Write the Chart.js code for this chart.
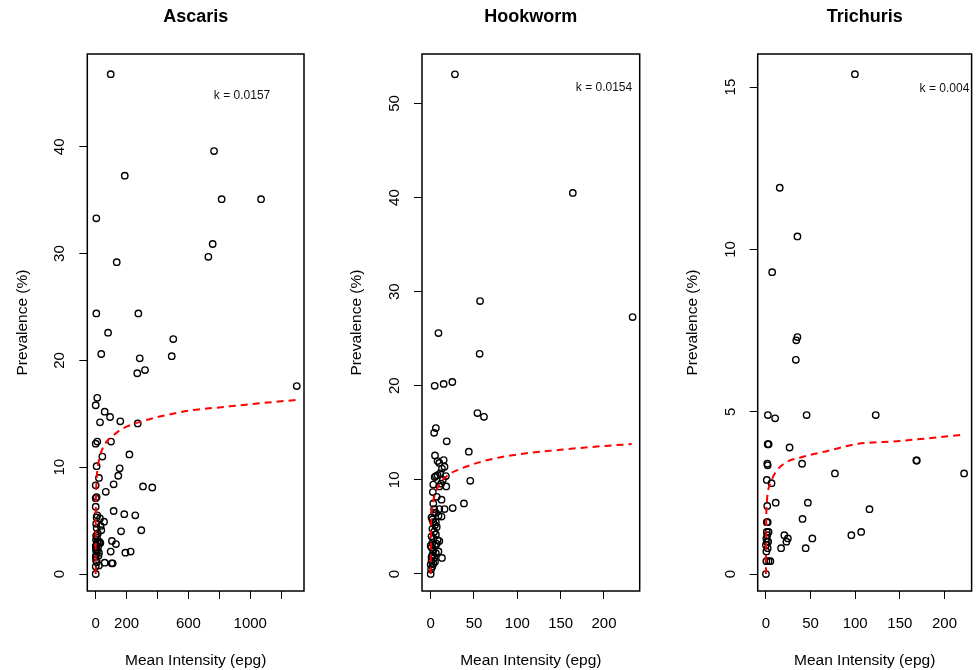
<!DOCTYPE html>
<html>
<head>
<meta charset="utf-8">
<title>Prevalence vs Mean Intensity</title>
<script src="https://cdn.jsdelivr.net/npm/chart.js@4.4.1/dist/chart.umd.min.js"></script>
<style>
  html, body { margin: 0; padding: 0; background: #fff; }
  #wrap { position: relative; width: 977px; height: 670px; overflow: hidden; }
  canvas { position: absolute; top: 0; }
</style>
</head>
<body>
<div id="wrap">
  <canvas id="ascaris" width="330" height="670" style="left:0"></canvas>
  <canvas id="hookworm" width="330" height="670" style="left:330px"></canvas>
  <canvas id="trichuris" width="317" height="670" style="left:660px"></canvas>
</div>
<script>
// ---- Ascaris ----
const ascarisIntensity = [
  97, 766, 188, 815, 1070, 4, 757, 729, 136, 4,
  276, 80, 502, 36, 492, 285, 319, 269, 1301, 10,
  0, 58, 93, 28, 159, 272, 10, 0, 99, 43,
  218, 6, 155, 21, 146, 306, 366, 0, 116, 65,
  6, 0, 0, 116, 185, 256, 6, 28, 54, 32,
  6, 164, 295, 36, 105, 131, 21, 97, 192, 226,
  21, 58, 110, 103, 21, 0, 0, 0, 3, 8,
  2, 12, 5, 15, 1, 9, 4, 18, 2, 7,
  25, 30, 14, 0, 10, 3
];
const ascarisPrevalence = [
  46.8, 39.6, 37.3, 35.1, 35.1, 33.3, 30.9, 29.7, 29.2, 24.4,
  24.4, 22.6, 22.0, 20.6, 20.4, 20.2, 19.1, 18.8, 17.6, 16.5,
  15.8, 15.2, 14.7, 14.2, 14.3, 14.1, 12.4, 12.2, 12.4, 11.0,
  11.2, 10.1, 9.9, 9.0, 9.2, 8.2, 8.1, 8.3, 8.4, 7.7,
  7.2, 7.1, 6.3, 5.9, 5.6, 5.5, 5.3, 5.2, 4.9, 4.5,
  4.3, 4.0, 4.1, 4.1, 3.1, 2.8, 2.9, 2.1, 2.0, 2.1,
  2.0, 1.06, 1.0, 1.0, 0.8, 1.6, 0.7, 0, 3.6, 3.4,
  3.2, 3.0, 2.7, 2.5, 2.3, 2.2, 1.9, 1.7, 1.3, 1.1,
  3.0, 2.9, 3.8, 2.6, 5.5, 4.7
];
// fitted curve (red dashed)
const ascarisCurveX = [0, 0.1, 0.5, 1, 2, 5, 10, 20, 40, 70, 100, 150, 200, 300, 400, 500, 600, 800, 1000, 1300];
const ascarisCurveY = [0, 3.1, 5.3, 6.3, 7.3, 8.7, 9.6, 10.6, 11.6, 12.4, 12.8, 13.4, 13.8, 14.3, 14.7, 15.0, 15.3, 15.6, 15.9, 16.3];
const ascarisXTicks = [0, 200, 400, 600, 800, 1000, 1200];
const ascarisXLabels = ['0', '200', '', '600', '', '1000', ''];
const ascarisYTicks = [0, 10, 20, 30, 40];

// ---- Hookworm ----
const hookwormIntensity = [
  28, 164, 57, 233, 9, 56.5, 25, 15, 4.6, 54,
  61.5, 6, 4, 18.5, 44, 5, 15, 16, 10, 11,
  4.6, 17.5, 45.7, 3, 18, 10, 2.5, 7, 12.5, 38.4,
  25.4, 16, 10, 4, 12.5, 13, 9, 0, 13, 8,
  14, 6, 12, 8, 3, 6, 9, 1, 3, 5,
  7, 2, 4, 6, 1, 3, 8, 2, 5, 1,
  3, 6, 2, 4, 1, 3, 2, 0.5, 1, 5,
  7, 10, 0, 0, 2, 6, 4
];
const hookwormPrevalence = [
  53.1, 40.5, 29.0, 27.3, 25.6, 23.4, 20.4, 20.2, 20.0, 17.1,
  16.7, 15.5, 15.0, 14.1, 13.0, 12.6, 12.1, 11.4, 11.8, 10.7,
  10.3, 10.4, 9.9, 9.5, 9.3, 9.3, 8.7, 8.2, 7.9, 7.5,
  7.0, 6.9, 6.9, 6.9, 6.1, 1.7, 2.4, 0, 11.2, 10.5,
  10.0, 10.4, 9.6, 12.0, 7.5, 6.5, 6.2, 6.0, 5.5, 5.2,
  5.0, 4.8, 4.5, 4.2, 4.0, 3.8, 3.6, 3.3, 3.0, 2.8,
  2.5, 2.2, 2.0, 1.7, 1.4, 1.1, 0.8, 0.5, 1.8, 1.3,
  3.2, 3.5, 3.0, 1.0, 5.8, 5.5, 6.5
];
const hookwormCurveX = [0, 0.5, 1, 2, 5, 10, 20, 30, 50, 75, 100, 150, 200, 232];
const hookwormCurveY = [0, 5.3, 6.3, 7.2, 8.5, 9.5, 10.5, 11.0, 11.7, 12.3, 12.7, 13.2, 13.6, 13.8];
const hookwormXTicks = [0, 50, 100, 150, 200];
const hookwormXLabels = ['0', '50', '100', '150', '200'];
const hookwormYTicks = [0, 10, 20, 30, 40, 50];

// ---- Trichuris ----
const trichurisIntensity = [
  99.7, 15.5, 35.3, 7, 35.3, 34, 33.5, 2.2, 10.3, 45.6,
  123, 2, 3, 26.5, 168.5, 1.5, 2, 40.5, 1, 6.3,
  77.3, 222, 1.5, 11, 47, 116, 41, 1, 2, 106.7,
  95.7, 20.6, 24.6, 23, 52, 17, 44.5, 1, 3, 0.5,
  1, 0, 2, 0.5, 3, 5, 0, 1.5, 0.5, 2.5,
  169
];
const trichurisPrevalence = [
  15.4, 11.9, 10.4, 9.3, 7.3, 7.2, 6.6, 4.9, 4.8, 4.9,
  4.9, 4.0, 4.0, 3.9, 3.5, 3.4, 3.35, 3.4, 2.9, 2.8,
  3.1, 3.1, 2.1, 2.2, 2.2, 2.0, 1.7, 1.6, 1.6, 1.3,
  1.2, 1.2, 1.1, 1.0, 1.1, 0.8, 0.8, 1.3, 1.3, 1.1,
  1.0, 0.9, 0.8, 0.4, 0.4, 0.4, 0, 1.2, 0.7, 1.0,
  3.5
];
const trichurisCurveX = [0, 0.5, 1, 2, 5, 10, 20, 40, 70, 100, 150, 222];
const trichurisCurveY = [0, 1.9, 2.2, 2.5, 2.8, 3.1, 3.4, 3.6, 3.8, 4.0, 4.1, 4.3];
const trichurisXTicks = [0, 50, 100, 150, 200];
const trichurisXLabels = ['0', '50', '100', '150', '200'];
const trichurisYTicks = [0, 5, 10, 15];

const FONT = '"Liberation Sans", Arial, Helvetica, sans-serif';

// draws the R-style box, titles and tick labels around each panel
function rStylePlugin(cfg) {
  return {
    id: 'rStyle',
    afterDraw(chart) {
      const ctx = chart.ctx;
      const a = chart.chartArea;
      const xs = chart.scales.x;
      const ys = chart.scales.y;
      const cx = (a.left + a.right) / 2;
      ctx.save();
      ctx.strokeStyle = '#000';
      ctx.lineWidth = 1.5;
      ctx.strokeRect(a.left, a.top, a.right - a.left, a.bottom - a.top);

      ctx.fillStyle = '#000';
      ctx.textAlign = 'center';
      ctx.textBaseline = 'middle';

      // tick labels
      ctx.font = '15px ' + FONT;
      cfg.xTicks.forEach(function(v, i) {
        if (cfg.xLabels[i]) ctx.fillText(cfg.xLabels[i], xs.getPixelForValue(v), a.bottom + 33);
      });
      cfg.yTicks.forEach(function(v) {
        ctx.save();
        ctx.translate(a.left - 27, ys.getPixelForValue(v));
        ctx.rotate(-Math.PI / 2);
        ctx.fillText(String(v), 0, 0);
        ctx.restore();
      });

      // titles
      ctx.font = 'bold 18px ' + FONT;
      ctx.fillText(cfg.title, cx, 17);
      ctx.font = '15.5px ' + FONT;
      ctx.fillText('Mean Intensity (epg)', cx, 661);
      ctx.save();
      ctx.translate(a.left - 65, (a.top + a.bottom) / 2);
      ctx.rotate(-Math.PI / 2);
      ctx.fillText('Prevalence (%)', 0, 0);
      ctx.restore();

      // dispersion parameter
      ctx.font = '12px ' + FONT;
      ctx.fillStyle = '#111';
      ctx.fillText(cfg.kText, xs.getPixelForValue(cfg.kAt[0]), ys.getPixelForValue(cfg.kAt[1]));
      ctx.restore();
    }
  };
}

function makePanel(id, cfg) {
  const points = cfg.xs.map(function(x, i) { return { x: x, y: cfg.ys[i] }; });
  const curve = cfg.curveX.map(function(x, i) { return { x: x, y: cfg.curveY[i] }; });
  return new Chart(document.getElementById(id), {
    type: 'scatter',
    data: {
      datasets: [
        {
          data: curve,
          showLine: true,
          borderColor: '#ff0000',
          borderWidth: 2,
          borderDash: [7, 5],
          pointRadius: 0,
          cubicInterpolationMode: 'monotone',
          fill: false
        },
        {
          data: points,
          pointStyle: 'circle',
          pointRadius: 3.2,
          pointBorderWidth: 1.4,
          borderColor: '#000',
          backgroundColor: 'rgba(0,0,0,0)'
        }
      ]
    },
    options: {
      responsive: false,
      animation: false,
      devicePixelRatio: 1,
      layout: { padding: cfg.padding },
      plugins: {
        legend: { display: false },
        tooltip: { enabled: false },
        title: { display: false }
      },
      scales: {
        x: {
          type: 'linear',
          position: 'bottom',
          min: cfg.xRange[0],
          max: cfg.xRange[1],
          afterFit: function(s) { s.height = 0; },
          afterBuildTicks: function(s) { s.ticks = cfg.xTicks.map(function(v) { return { value: v }; }); },
          ticks: { display: false },
          grid: { display: true, drawOnChartArea: false, drawTicks: true, tickLength: 8, color: '#000', lineWidth: 1 },
          border: { display: false }
        },
        y: {
          type: 'linear',
          position: 'left',
          min: cfg.yRange[0],
          max: cfg.yRange[1],
          afterFit: function(s) { s.width = 0; },
          afterBuildTicks: function(s) { s.ticks = cfg.yTicks.map(function(v) { return { value: v }; }); },
          ticks: { display: false },
          grid: { display: true, drawOnChartArea: false, drawTicks: true, tickLength: 8, color: '#000', lineWidth: 1 },
          border: { display: false }
        }
      }
    },
    plugins: [rStylePlugin(cfg)]
  });
}

makePanel('ascaris', {
  title: 'Ascaris',
  xs: ascarisIntensity, ys: ascarisPrevalence,
  curveX: ascarisCurveX, curveY: ascarisCurveY,
  xTicks: ascarisXTicks, xLabels: ascarisXLabels, yTicks: ascarisYTicks,
  xRange: [-54.4, 1348], yRange: [-1.59, 48.69],
  kText: 'k = 0.0157', kAt: [947, 44.8],
  padding: { left: 87.3, right: 26, top: 54, bottom: 79 }
});

makePanel('hookworm', {
  title: 'Hookworm',
  xs: hookwormIntensity, ys: hookwormPrevalence,
  curveX: hookwormCurveX, curveY: hookwormCurveY,
  xTicks: hookwormXTicks, xLabels: hookwormXLabels, yTicks: hookwormYTicks,
  xRange: [-10, 241.2], yRange: [-1.81, 55.26],
  kText: 'k = 0.0154', kAt: [200, 51.7],
  padding: { left: 92, right: 20.3, top: 54, bottom: 79 }
});

makePanel('trichuris', {
  title: 'Trichuris',
  xs: trichurisIntensity, ys: trichurisPrevalence,
  curveX: trichurisCurveX, curveY: trichurisCurveY,
  xTicks: trichurisXTicks, xLabels: trichurisXLabels, yTicks: trichurisYTicks,
  xRange: [-9.2, 230.4], yRange: [-0.52, 16.02],
  kText: 'k = 0.004', kAt: [200, 14.95],
  padding: { left: 97.7, right: 2.3, top: 54, bottom: 79 }
});
</script>
</body>
</html>
